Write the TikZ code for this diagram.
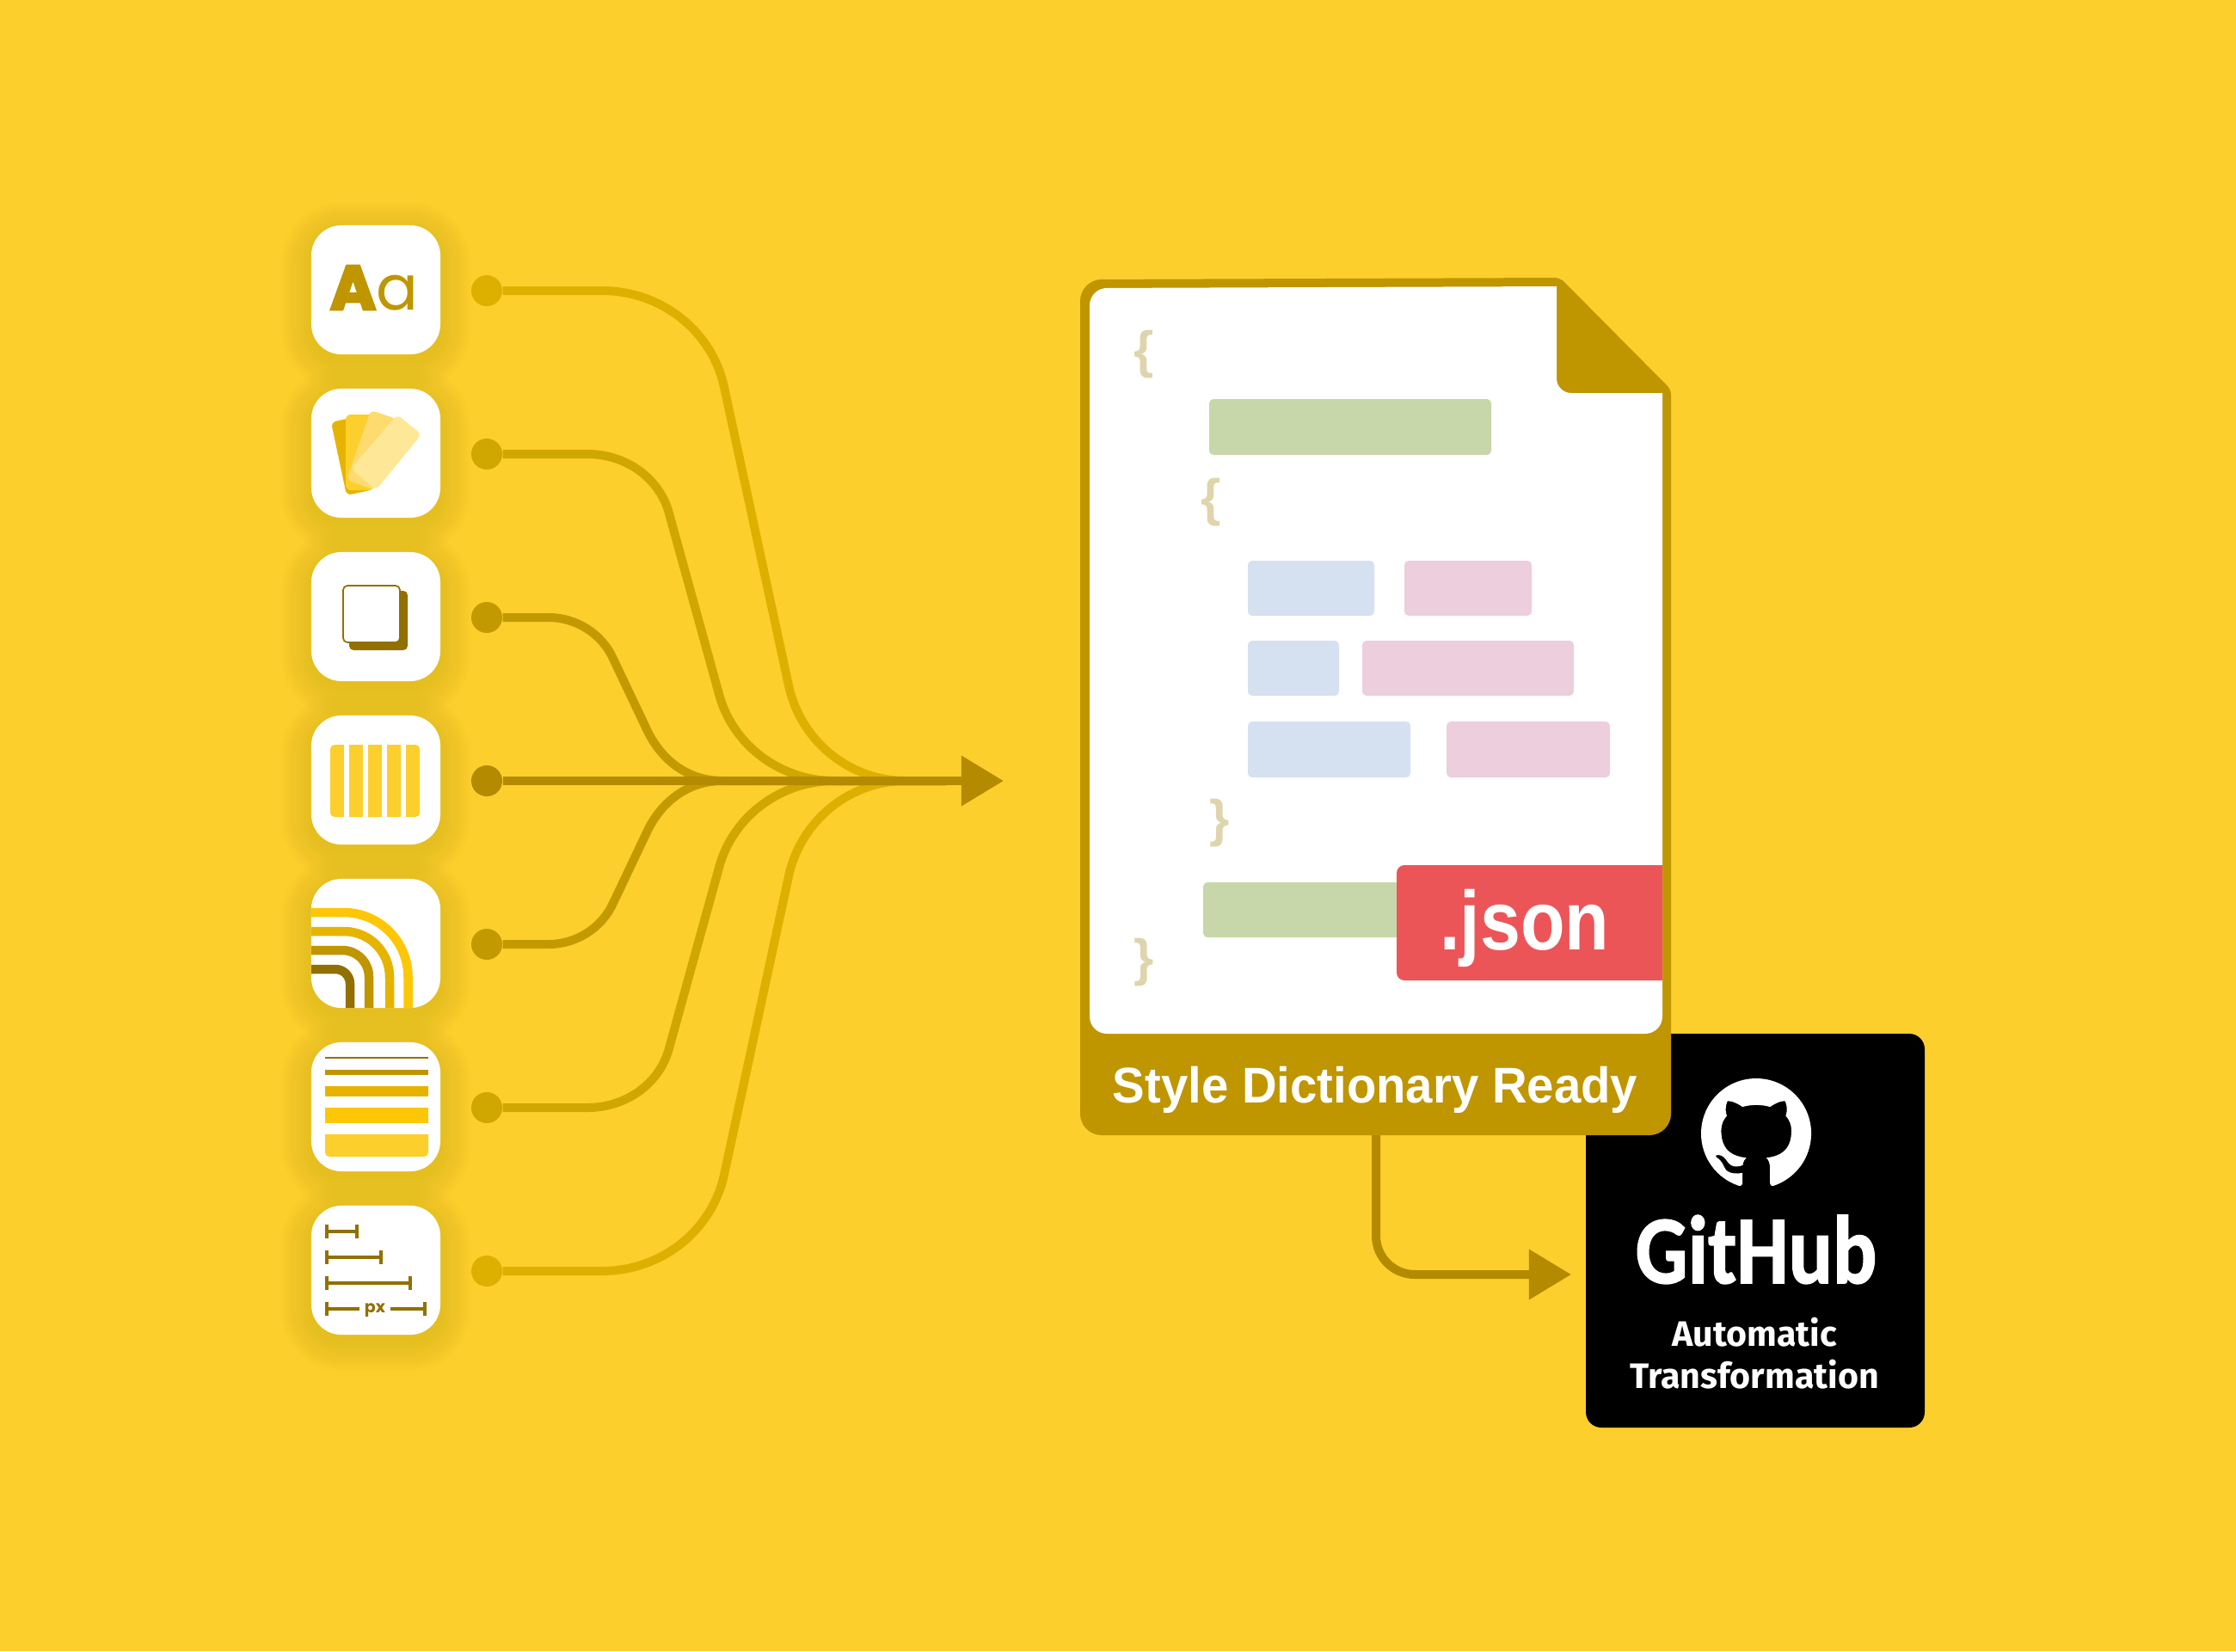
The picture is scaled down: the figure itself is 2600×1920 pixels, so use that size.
\documentclass[tikz,border=0pt]{standalone}
\usepackage{fontspec}
\setmainfont{Liberation Sans}
\newfontfamily\popfont[BoldFeatures={FakeBold=4}]{Poppins}
\newfontfamily\pxfont{Poppins}
\newfontfamily\logofont[BoldFeatures={FakeBold=1.5}]{Carlito}
\newfontfamily\capfont{Fira Sans}
\usetikzlibrary{arrows.meta,svg.path}

\definecolor{pagebg}{HTML}{FCCF2C}
\definecolor{gold}{HTML}{BF9500}
\definecolor{flowA}{HTML}{DDB000}
\definecolor{flowB}{HTML}{D0A600}
\definecolor{flowC}{HTML}{C29A00}
\definecolor{flowD}{HTML}{B38A00}
\definecolor{brown}{HTML}{917000}
\definecolor{amber}{HTML}{E6B400}
\definecolor{sun}{HTML}{FDC708}
\definecolor{cardC}{HTML}{FDDB6E}
\definecolor{cardD}{HTML}{FEE796}
\definecolor{greenbar}{HTML}{C8D7A9}
\definecolor{bluebar}{HTML}{D5E1F0}
\definecolor{pinkbar}{HTML}{ECCEDD}
\definecolor{bracecol}{HTML}{DFD4AB}
\definecolor{jsonred}{HTML}{EC5558}

\tikzset{
    tile/.style={fill=white, rounded corners=.35cm, minimum size=1.5cm, inner sep=0},
    halo/.style={fill=brown, opacity=.013},
    dot/.style={circle, minimum size=.36cm, inner sep=0},
    flow/.style={line width=.1cm},
    tip/.style={-{Triangle[length=.49cm,width=.56cm]}},
    codebar/.style={rounded corners=.05cm},
    brace/.style={text=bracecol, inner sep=0, font=\bfseries\fontsize{17}{17}\selectfont},
    arc/.style={line width=.105cm, rounded corners=#1},
    ruler/.style={brown, line width=.035cm},
    rulercap/.style={brown, line width=.04cm},
    card/.style={rounded corners=.06cm},
    word/.style={inner sep=0, anchor=base},
}

\begin{document}
\begin{tikzpicture}[x=.01cm,y=-.01cm]
    \fill[pagebg] (0,0) rectangle (2600,1920);

    % tiles with soft shadow
    \foreach \y in {337,527,717,907,1097,1287,1477}
        \foreach \s in {2,5,...,35}
            \fill[halo, rounded corners={(35+\s)*.01cm}] (362-\s,\y-75-\s+8) rectangle (512+\s,\y+75+\s+8);
    \node[tile] (tilefont) at (437,337) {};
    \node[tile] (tilecard) at (437,527) {};
    \node[tile] (tilelayer) at (437,717) {};
    \node[tile] (tilegrid) at (437,907) {};
    \node[tile] (tileradius) at (437,1097) {};
    \node[tile] (tileborder) at (437,1287) {};
    \node[tile] (tilesize) at (437,1477) {};

    % Aa
    \node[word, text=gold, font=\popfont\fontsize{20.6}{20}\selectfont] (aatext) at (435,360) {{\bfseries A}a};

    % cards
    \fill[amber, card] (385,491) -- (417,484) -- (435,569) -- (403,576) -- cycle;
    \fill[pagebg, card] (402,482) -- (435,482) -- (435,570) -- (402,570) -- cycle;
    \fill[cardC, card] (431,477) -- (461,487) -- (436,570) -- (403,558) -- cycle;
    \fill[cardD, card] (462,482) -- (490,505) -- (437,570) -- (408,545) -- cycle;

    % layers
    \fill[brown, rounded corners=.05cm] (406,687) rectangle (474,756);
    \draw[brown, fill=white, line width=.017cm, rounded corners=.05cm] (399,681) rectangle (465,747);

    % columns
    \fill[pagebg, rounded corners=.05cm] (384,866) rectangle (488,950);
    \foreach \x in {400,422,444,466}
        \fill[white] (\x,866) rectangle (\x+6,950);

    % radius arcs
    \begin{scope}
        \clip[rounded corners=.35cm] (362,1022) rectangle (512,1172);
        \draw[arc=.75cm, sun] (350,1061) -- (474.5,1061) -- (474.5,1190);
        \draw[arc=.53cm, amber] (350,1083) -- (453,1083) -- (453,1190);
        \draw[arc=.31cm, gold] (350,1105) -- (429,1105) -- (429,1190);
        \draw[arc=.17cm, brown] (350,1127) -- (407,1127) -- (407,1190);
    \end{scope}

    % border stripes
    \fill[brown] (378,1229) rectangle (498,1231);
    \fill[gold] (378,1244) rectangle (498,1250);
    \fill[amber] (378,1263) rectangle (498,1275);
    \fill[sun] (378,1288) rectangle (498,1306);
    \fill[pagebg] (378,1319) -- (498,1319) [rounded corners=.05cm] -- (498,1345) -- (378,1345) [sharp corners] -- cycle;

    % sizes
    \draw[ruler] (380,1432) -- (415,1432);
    \draw[rulercap] (380,1424) -- (380,1440);
    \draw[rulercap] (415,1424) -- (415,1440);
    \draw[ruler] (380,1462) -- (443,1462);
    \draw[rulercap] (380,1454) -- (380,1470);
    \draw[rulercap] (443,1454) -- (443,1470);
    \draw[ruler] (380,1492) -- (477,1492);
    \draw[rulercap] (380,1484) -- (380,1500);
    \draw[rulercap] (477,1484) -- (477,1500);
    \draw[ruler] (380,1522) -- (418,1522);
    \draw[ruler] (454,1522) -- (494,1522);
    \draw[rulercap] (380,1514) -- (380,1530);
    \draw[rulercap] (494,1514) -- (494,1530);
    \node[word, text=brown, font=\pxfont\bfseries\fontsize{5.4}{6}\selectfont] (pxtext) at (436,1526) {px};

    % dots and flow lines
    \node[dot, fill=flowA] (dotfont) at (566,338) {};
    \node[dot, fill=flowB] (dotcard) at (566,528) {};
    \node[dot, fill=flowC] (dotlayer) at (566,718) {};
    \node[dot, fill=flowD] (dotgrid) at (566,908) {};
    \node[dot, fill=flowC] (dotradius) at (566,1098) {};
    \node[dot, fill=flowB] (dotborder) at (566,1288) {};
    \node[dot, fill=flowA] (dotsize) at (566,1478) {};
    \coordinate (merge) at (1100,908);
    \coordinate (flowend) at (1167,908);

    \draw[flow, flowA] (dotfont) -- (700,338) .. controls (769,338) and (828,385) .. (842,450) -- (917,797) .. controls (931,862) and (988,908) .. (1053,908) -- (merge);
    \draw[flow, flowA] (dotsize) -- (700,1478) .. controls (769,1478) and (828,1431) .. (842,1366) -- (917,1019) .. controls (931,954) and (988,908) .. (1053,908) -- (merge);
    \draw[flow, flowB] (dotcard) -- (683,528) .. controls (728,528) and (767,556) .. (778,597) -- (836,807) .. controls (852,867) and (908,908) .. (970,908) -- (merge);
    \draw[flow, flowB] (dotborder) -- (683,1288) .. controls (728,1288) and (767,1260) .. (778,1219) -- (836,1009) .. controls (852,949) and (908,908) .. (970,908) -- (merge);
    \draw[flow, flowC] (dotlayer) -- (638,718) .. controls (670,718) and (700,737) .. (713,766) -- (751,846) .. controls (768,884) and (800,908) .. (840,908) -- (merge);
    \draw[flow, flowC] (dotradius) -- (638,1098) .. controls (670,1098) and (700,1079) .. (713,1050) -- (751,970) .. controls (768,932) and (800,908) .. (840,908) -- (merge);
    \draw[flow, flowD, tip] (dotgrid) -- (flowend);

    % github box
    \fill[black, rounded corners=.18cm] (1844,1202) rectangle (2238,1660);
    \fill[white, shift={(1978,1254)}, xscale=2.276, yscale=-2.276] svg "M 8 0 C 3.58 0 0 3.58 0 8 c 0 3.54 2.29 6.53 5.47 7.59 0.4 0.07 0.55 -0.17 0.55 -0.38 0 -0.19 -0.01 -0.82 -0.01 -1.49 -2.01 0.37 -2.53 -0.49 -2.69 -0.94 -0.09 -0.23 -0.48 -0.94 -0.82 -1.13 -0.28 -0.15 -0.68 -0.52 -0.01 -0.53 0.63 -0.01 1.08 0.58 1.23 0.82 0.72 1.21 1.87 0.87 2.33 0.66 0.07 -0.52 0.28 -0.87 0.51 -1.07 -1.78 -0.2 -3.64 -0.89 -3.64 -3.95 0 -0.87 0.31 -1.59 0.82 -2.15 -0.08 -0.2 -0.36 -1.02 0.08 -2.12 0 0 0.67 -0.21 2.2 0.82 0.64 -0.18 1.32 -0.27 2 -0.27 0.68 0 1.36 0.09 2 0.27 1.53 -1.04 2.2 -0.82 2.2 -0.82 0.44 1.1 0.16 1.92 0.08 2.12 0.51 0.56 0.82 1.27 0.82 2.15 0 3.07 -1.87 3.75 -3.65 3.95 0.29 0.25 0.54 0.73 0.54 1.48 0 1.07 -0.01 1.93 -0.01 2.2 0 0.21 0.15 0.46 0.55 0.38 C 13.71 14.53 16 11.53 16 8 c 0 -4.42 -3.58 -8 -8 -8 z";
    \node[word, text=white, font=\logofont\bfseries\fontsize{32}{32}\selectfont, xscale=.85, transform shape] (hublabel) at (2042,1492) {GitHub};
    \node[word, text=white, font=\capfont\bfseries\fontsize{11.7}{12}\selectfont] (autolabel) at (2040,1565) {Automatic};
    \node[word, text=white, font=\capfont\bfseries\fontsize{11.7}{12}\selectfont] (translabel) at (2040,1614) {Transformation};

    % file
    \fill[gold] [rounded corners=.25cm] (1256,1320) -- (1256,325) [rounded corners=.06cm] -- (1814,323) -- (1943,453) [rounded corners=.25cm] -- (1943,1320) -- cycle;
    \fill[white] [rounded corners=.2cm] (1267,1202) -- (1267,335) [sharp corners] -- (1810,333) [rounded corners=.17cm] -- (1810,457) [sharp corners] -- (1933,457) [rounded corners=.2cm] -- (1933,1202) -- cycle;

    \fill[greenbar, codebar] (1406,464) rectangle (1734,529);
    \fill[bluebar, codebar] (1451,652) rectangle (1598,716);
    \fill[pinkbar, codebar] (1633,652) rectangle (1781,716);
    \fill[bluebar, codebar] (1451,745) rectangle (1557,809);
    \fill[pinkbar, codebar] (1584,745) rectangle (1830,809);
    \fill[bluebar, codebar] (1451,839) rectangle (1640,904);
    \fill[pinkbar, codebar] (1682,839) rectangle (1872,904);
    \fill[greenbar, codebar] (1399,1026) rectangle (1700,1090);

    \node[brace] (openA) at (1330,412) {\{};
    \node[brace] (openB) at (1408,584) {\{};
    \node[brace] (closeB) at (1418,957) {\}};
    \node[brace] (closeA) at (1330,1119) {\}};

    \fill[jsonred] [rounded corners=.09cm] (1933,1140) [sharp corners] -- (1933,1006) [rounded corners=.09cm] -- (1624,1006) -- (1624,1140) [sharp corners] -- cycle;
    \node[word, text=white, font=\bfseries\fontsize{27.6}{28}\selectfont, xscale=.87, transform shape] (jsonlabel) at (1773,1104) {.json};
    \node[word, text=white, font=\bfseries\fontsize{16.6}{18}\selectfont, xscale=.965, transform shape] (filelabel) at (1599,1282) {Style Dictionary Ready};

    \coordinate (filefoot) at (1600,1320);
    \coordinate (hubtip) at (1827,1482);
    \coordinate (footbend) at (1600,1482);
    \draw[flow, flowD, tip, rounded corners=.45cm] (filefoot) -- (footbend) -- (hubtip);
\end{tikzpicture}
\end{document}
